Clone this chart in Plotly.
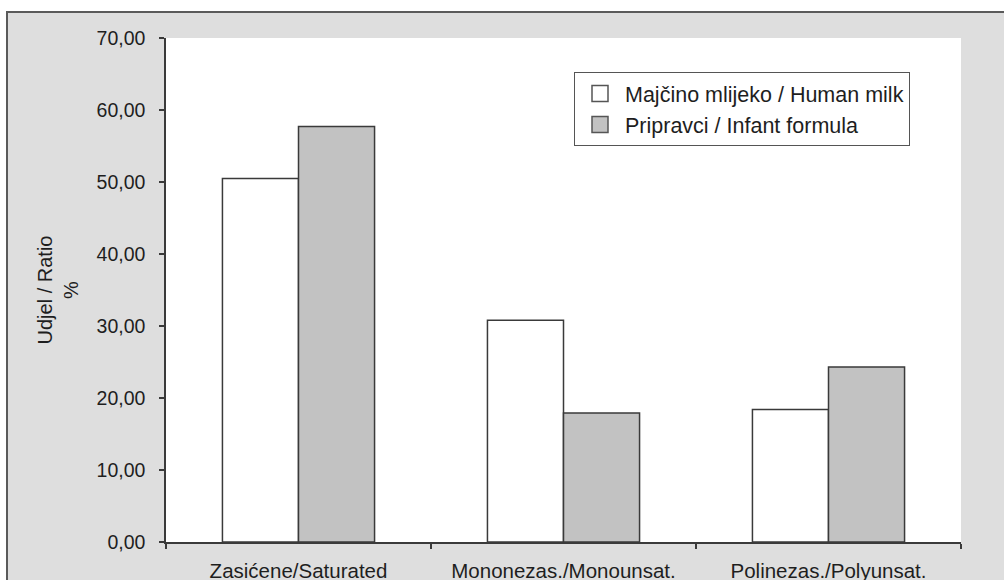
import plotly.graph_objects as go

categories = ["Zasićene/Saturated", "Mononezas./Monounsat.", "Polinezas./Polyunsat."]
human_milk = [50.5, 30.8, 18.4]
infant_formula = [57.7, 17.9, 24.3]
series_names = ["Majčino mlijeko / Human milk", "Pripravci / Infant formula"]
series_colors = ["white", "#c2c2c2"]
y_ticks = [0, 10, 20, 30, 40, 50, 60, 70]

FONT = "Liberation Sans, Arial, sans-serif"
TXT = "#1e1e1e"
LINE = "#3a3a3a"

fig = go.Figure()
for vals, name, col in zip([human_milk, infant_formula], series_names, series_colors):
    fig.add_trace(go.Bar(x=categories, y=vals, name=name, showlegend=False,
                         marker=dict(color=col, line=dict(color=LINE, width=1.5))))
# legend-only entries with larger square swatches
for name, col in zip(series_names, series_colors):
    fig.add_trace(go.Scatter(x=[None], y=[None], mode="markers", name=name,
                             marker=dict(symbol="square", size=20, color=col,
                                         line=dict(color="#555555", width=1.5))))

W, H = 1004, 580
L, R, T, B = 166, 43, 38, 38
pw, ph = W - L - R, H - T - B

def px(x):
    return (x - L) / pw

def py(y):
    return (H - B - y) / ph

fig.update_layout(
    width=W, height=H,
    margin=dict(l=L, r=R, t=T, b=B, autoexpand=False),
    paper_bgcolor="white", plot_bgcolor="white",
    barmode="group", bargap=0.426, bargroupgap=0,
    font=dict(family=FONT, size=19, color=TXT),
    separators=",.",
    showlegend=True,
    legend=dict(x=px(574), y=py(72), xanchor="left", yanchor="top",
                bgcolor="white", bordercolor="#555555", borderwidth=1,
                font=dict(family=FONT, size=21.5, color=TXT),
                tracegroupgap=0, itemsizing="trace", itemwidth=40),
    xaxis=dict(showline=True, linecolor=LINE, linewidth=1.5, ticks="outside",
               tickson="boundaries", ticklen=5, tickcolor=LINE, tickwidth=1.5,
               showgrid=False, tickfont=dict(size=20.5, color=TXT),
               ticklabelstandoff=10, fixedrange=True),
    yaxis=dict(range=[0, 70], tickvals=y_ticks, tickformat=".2f",
               showline=True, linecolor=LINE, linewidth=1.5, ticks="outside",
               ticklen=5, tickcolor=LINE, tickwidth=1.5, showgrid=False,
               zeroline=False, tickfont=dict(size=19.5, color=TXT),
               ticklabelstandoff=10,
               title=dict(text="Udjel / Ratio<br>%", font=dict(size=20, color=TXT),
                          standoff=13),
               fixedrange=True),
    shapes=[
        dict(type="rect", xref="paper", yref="paper", layer="below",
             x0=px(7), x1=px(1020), y0=py(12), y1=py(600),
             fillcolor="#dedede", line=dict(color="#5a5a5a", width=2)),
        dict(type="rect", xref="x domain", yref="y domain", layer="below",
             x0=0, x1=1, y0=0, y1=1, fillcolor="white", line=dict(width=0)),
    ],
)

fig.write_html("out.html", config={"displayModeBar": False},
               post_script="document.body.style.margin='0';document.body.style.overflow='hidden';")
